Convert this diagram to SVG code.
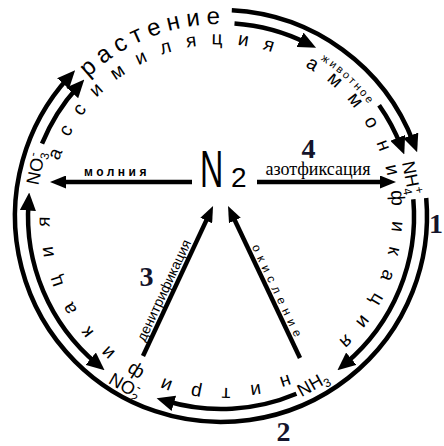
<svg xmlns="http://www.w3.org/2000/svg" width="444" height="446" viewBox="0 0 444 446">
<defs>
<style>
.ring{fill:none;stroke:#000;stroke-width:4.5}
.ln{fill:none;stroke:#000;stroke-width:4.5}
text{font-family:"Liberation Sans",Arial,sans-serif;fill:#000}
.rt{font-size:19px}
.lab{font-size:18px}
.sub{font-size:12px}
.num{font-family:"Liberation Serif","Times New Roman",serif;font-weight:bold;font-size:28px;fill:#14142b}
</style>
<marker id="ah" markerUnits="userSpaceOnUse" markerWidth="18" markerHeight="16" viewBox="0 0 18 16" refX="8" refY="8" orient="auto"><path d="M0,0 L18,8 L0,16 z"/></marker>
<marker id="ahb" markerUnits="userSpaceOnUse" markerWidth="18" markerHeight="16" viewBox="0 0 18 16" refX="8" refY="8" orient="auto-start-reverse"><path d="M0,0 L18,8 L0,16 z"/></marker>
<marker id="ah2" markerUnits="userSpaceOnUse" markerWidth="16" markerHeight="13" viewBox="0 0 16 13" refX="6" refY="6.5" orient="auto"><path d="M0,0 L16,6.5 L0,13 z"/></marker>
<path id="c171" d="M52.6,186.3 A171,171 0 1 1 389.4,245.7 A171,171 0 1 1 52.6,186.3"/>
<path id="c192" d="M31.9,182.7 A192,192 0 1 1 410.1,249.3 A192,192 0 1 1 31.9,182.7"/>
<path id="c184" d="M39.8,184.05 A184,184 0 1 1 402.2,247.95 A184,184 0 1 1 39.8,184.05"/>
</defs>

<g id="connectors">
<path class="ring" d="M231.8,10.3 A206,206 0 0 1 413.6,142.9" marker-end="url(#ah)"/>
<path class="ring" d="M234.5,23.5 A193,193 0 0 1 307.1,43.3" marker-end="url(#ah)"/>
<path class="ring" d="M379.1,105.3 A193,193 0 0 1 400.6,145.3" marker-end="url(#ah)"/>
<path class="ring" d="M413.3,199.2 A193,193 0 0 1 345.1,363.8" marker-end="url(#ah)"/>
<path class="ring" d="M296.4,393.7 A193,193 0 0 1 166.2,401.0" marker-end="url(#ah)"/>
<path class="ring" d="M96.9,363.8 A193,193 0 0 1 28.5,202.5" marker-start="url(#ahb)" marker-end="url(#ahb)"/>
<path class="ring" d="M42.0,143.7 A193,193 0 0 1 77.6,86.9" marker-end="url(#ah)"/>
<path class="ring" d="M426.2,198.0 A206,206 0 1 1 68.4,77.6" marker-end="url(#ah)"/>
<path class="ln" d="M192,182 L60,182" marker-end="url(#ah2)"/>
<path class="ln" d="M257,182 L386,182" marker-end="url(#ah2)"/>
<path class="ln" d="M143,356 L208.8,215.1" marker-end="url(#ah2)"/>
<path class="ln" d="M300,358 L232.3,215" marker-end="url(#ah2)"/>
</g>

<g id="ring-text">
<text style="font-size:24px;letter-spacing:6.2px"><textPath href="#c192" startOffset="121">растение</textPath></text>
<text class="rt" style="letter-spacing:14.8px"><textPath href="#c171" startOffset="26">ассимиляция</textPath></text>
<text class="rt"><textPath href="#c171" startOffset="327">а</textPath></text>
<text style="font-size:11px;letter-spacing:2.4px"><textPath href="#c184" startOffset="363">животное</textPath></text>
<text class="rt" style="letter-spacing:14.6px"><textPath href="#c171" startOffset="352">ммонификация</textPath></text>
<text class="rt" style="letter-spacing:19.3px"><textPath href="#c171" startOffset="708">нитриф</textPath></text>
<text class="rt" style="letter-spacing:18.8px"><textPath href="#c171" startOffset="890">икация</textPath></text>
</g>

<g id="N2">
<text transform="translate(200,187) scale(0.62,1)" style="font-size:52px">N</text>
<text x="231" y="187" style="font-size:28px">2</text>
</g>
<g id="NO3">
<text class="lab" transform="translate(36,168) rotate(-78)" text-anchor="middle" y="6">NO<tspan class="sub" dy="4">3</tspan><tspan class="sub" dx="-6" dy="-12">-</tspan></text>
</g>
<g id="NH4">
<text class="lab" transform="translate(411,178) rotate(79)" text-anchor="middle" y="6">NH<tspan class="sub" dy="4">4</tspan><tspan class="sub" dx="-6" dy="-12">+</tspan></text>
</g>
<g id="NO2">
<text class="lab" transform="translate(125,386) rotate(30)" text-anchor="middle" y="6">NO<tspan class="sub" dy="4">2</tspan><tspan class="sub" dx="-6" dy="-12">-</tspan></text>
</g>
<g id="NH3">
<text class="lab" transform="translate(313,384) rotate(-29)" text-anchor="middle" y="6">NH<tspan class="sub" dy="4">3</tspan></text>
</g>

<g id="labels">
<text x="117" y="176" text-anchor="middle" style="font-size:12px;font-weight:bold;letter-spacing:3.5px">молния</text>
<text x="318" y="175" text-anchor="middle" style="font-family:'Liberation Serif','Times New Roman',serif;font-size:18px">азотфиксация</text>
<text transform="translate(144.9,342.5) rotate(-65.1)" style="font-size:14px">денитрификация</text>
<text transform="translate(251.7,246.8) rotate(64.7)" style="font-size:12px;letter-spacing:5.3px">окисление</text>
<text class="num" x="308.5" y="158" text-anchor="middle">4</text>
<text class="num" x="146.5" y="286" text-anchor="middle">3</text>
<text class="num" x="436" y="233" text-anchor="middle">1</text>
<text class="num" x="283.5" y="441" text-anchor="middle">2</text>
</g>
</svg>
